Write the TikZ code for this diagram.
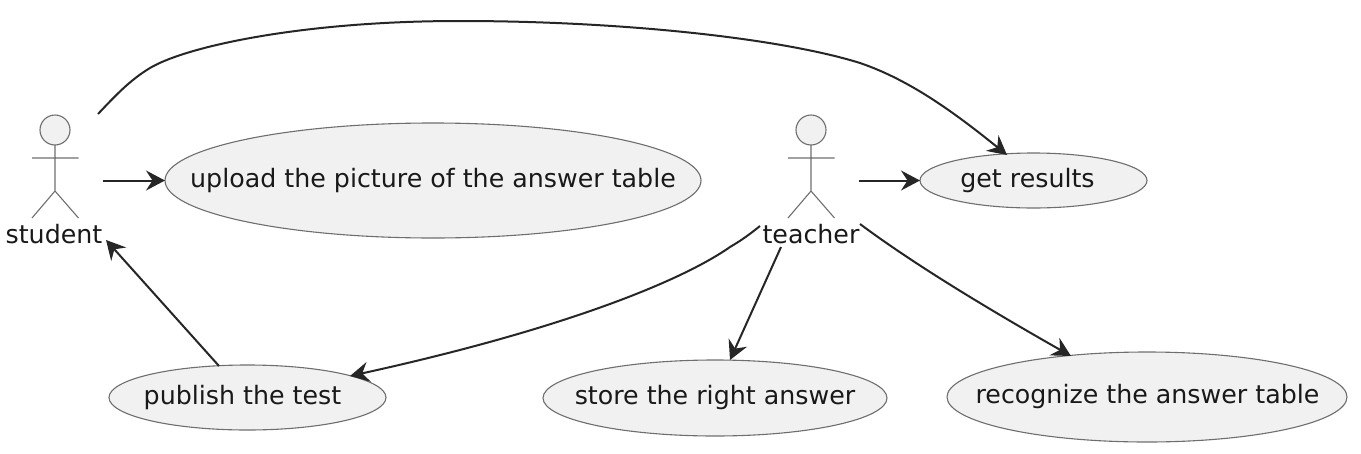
\documentclass[tikz,border=0pt]{standalone}
\usepackage{fontspec}
\setmainfont{DejaVu Sans}
\usetikzlibrary{arrows.meta,shapes.geometric}
\definecolor{ucfill}{HTML}{F1F1F1}
\definecolor{ucline}{HTML}{6E6E6E}
\definecolor{conn}{HTML}{262626}
% text of a use case: takes no room in its node, so the ellipse keeps its given size
\newcommand{\uctext}[2]{\makebox[0pt][c]{\hspace*{#1}\fontsize{25.3}{28}\selectfont\raisebox{-6.5pt}[0pt][0pt]{#2}}}
\tikzset{
  usecase/.style={ellipse,draw=ucline,fill=ucfill,line width=1.1pt,inner sep=0pt,outer sep=0pt,text=black!90},
  actorline/.style={draw=ucline,line width=1.1pt},
  actorhead/.style={circle,draw=ucline,fill=ucfill,line width=1.1pt,minimum size=30pt,inner sep=0pt,outer sep=0pt},
  actorname/.style={inner sep=0pt,font=\fontsize{25.3}{28}\selectfont,text=black!90},
  flow/.style={draw=conn,line width=2pt,-{Stealth[length=19pt,width=20pt,inset=6.5pt]}}
}
\begin{document}
\begin{tikzpicture}[x=1pt,y=-1pt]
\useasboundingbox (0,0) rectangle (1361,453);
% use cases
\node[usecase,minimum width=536pt,minimum height=115pt] (upload) at (433,180.5) {\uctext{0pt}{upload the picture of the answer table}};
\node[usecase,minimum width=227pt,minimum height=55pt] (results) at (1033.5,180.5) {\uctext{-12pt}{get results}};
\node[usecase,minimum width=277pt,minimum height=65pt] (publish) at (247.5,397.5) {\uctext{-10pt}{publish the test}};
\node[usecase,minimum width=344pt,minimum height=76pt] (store) at (715,398) {\uctext{0pt}{store the right answer}};
\node[usecase,minimum width=400pt,minimum height=90pt] (recognize) at (1147,397) {\uctext{1pt}{recognize the answer table}};
% student
\node[actorhead] (shead) at (55,130) {};
\coordinate (ship) at (55,191);
\coordinate (sarmL) at (32,158);
\coordinate (sarmR) at (78.5,158);
\coordinate (slegL) at (32,218);
\coordinate (slegR) at (78.5,218);
\path[actorline] (shead.south) -- (ship) (sarmL) -- (sarmR) (slegL) -- (ship) -- (slegR);
\node[actorname,anchor=base] (student) at (54,243) {student};
% teacher
\node[actorhead] (thead) at (811,130) {};
\coordinate (ship2) at (811,191);
\coordinate (tarmL) at (788,158);
\coordinate (tarmR) at (834.5,158);
\coordinate (tlegL) at (788,218);
\coordinate (tlegR) at (834.5,218);
\path[actorline] (thead.south) -- (ship2) (tarmL) -- (tarmR) (tlegL) -- (ship2) -- (tlegR);
\node[actorname,anchor=base] (teacher) at (811,243) {teacher};
% free connector ends
\coordinate (s1) at (98,114);
\coordinate (s2) at (103,180.5);
\coordinate (s3) at (106,240);
\coordinate (t1) at (859,180.5);
\coordinate (t2) at (760,226);
\coordinate (t3) at (781,247);
\coordinate (t4) at (860,224);
\coordinate (pubtop) at (219,366);
\coordinate (restop) at (1007,155);
\coordinate (pubend) at (350,376);
\coordinate (stotop) at (730,360);
\coordinate (rectop) at (1071,356);
% connectors
\draw[flow] (s1) .. controls (115,96) and (130,80) .. (150,68)
  .. controls (185,47) and (300,21) .. (460,21)
  .. controls (620,21) and (780,38) .. (860,63)
  .. controls (910,80) and (955,113) .. (restop);
\draw[flow] (s2) -- (upload.west);
\draw[flow] (pubtop) -- (s3);
\draw[flow] (t1) -- (results.west);
\draw[flow] (t2) .. controls (750,234) and (742,240) .. (730,247)
  .. controls (680,282) and (560,330) .. (pubend);
\draw[flow] (t3) -- (stotop);
\draw[flow] (t4) .. controls (915,265) and (990,310) .. (rectop);
\end{tikzpicture}
\end{document}
